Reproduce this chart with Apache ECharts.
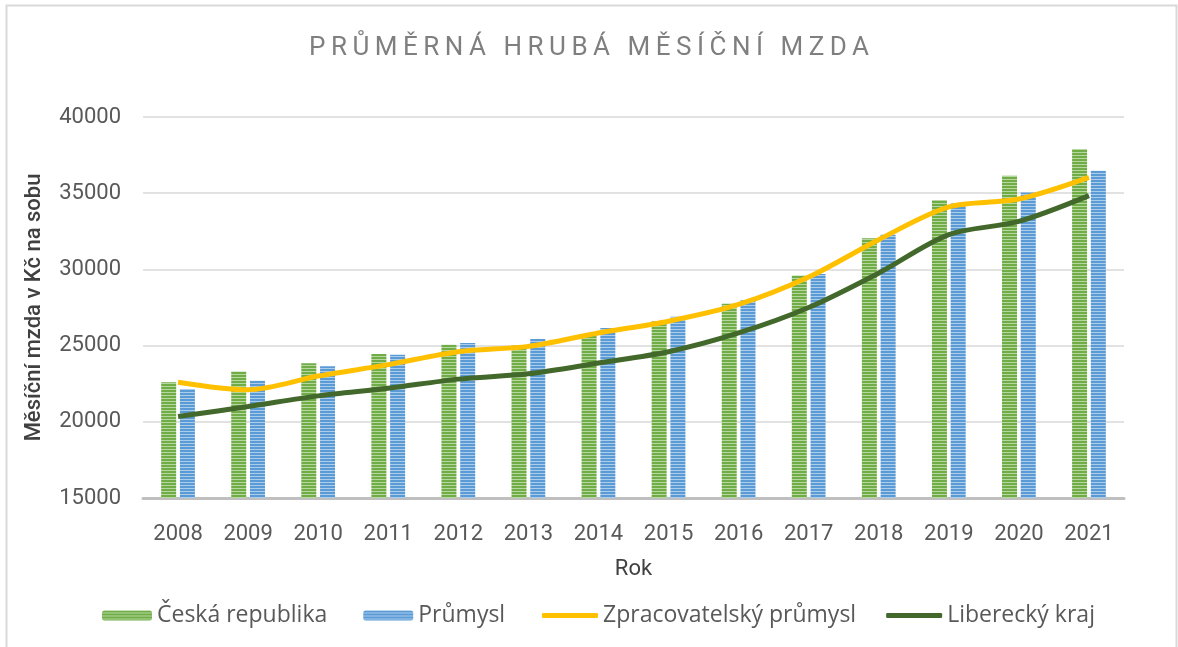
<!DOCTYPE html>
<html>
<head>
<meta charset="utf-8">
<script src="https://cdn.jsdelivr.net/npm/echarts@6/dist/echarts.min.js"></script>
<style>
    html, body { margin: 0; padding: 0; background: #fff; }
    #wrap { position: relative; width: 1178px; height: 647px; overflow: hidden; }
    #mzda { width: 1178px; height: 647px; }
    #titulek {
        position: absolute; left: 0; top: 31px; width: 1178px; text-align: center;
        font-family: Roboto, sans-serif; font-size: 26px; color: #7f7f7f;
        letter-spacing: 5.5px; padding-left: 5.5px; box-sizing: border-box;
    }
</style>
</head>
<body>
<div id="wrap">
    <div id="mzda"></div>
    <div id="titulek">PRŮMĚRNÁ HRUBÁ MĚSÍČNÍ MZDA</div>
</div>
<script>
var roky = ['2008', '2009', '2010', '2011', '2012', '2013', '2014', '2015', '2016', '2017', '2018', '2019', '2020', '2021'];
var ceskaRepublika = [22600, 23300, 23850, 24450, 25050, 25000, 25750, 26600, 27750, 29600, 32050, 34550, 36150, 37900];
var prumysl = [22150, 22700, 23650, 24400, 25170, 25430, 26150, 26900, 27970, 29700, 32280, 34360, 35050, 36480];
var zpracovatelsky = [22600, 22100, 23000, 23750, 24600, 24950, 25830, 26600, 27700, 29500, 31950, 34100, 34620, 36040];
var liberecky = [20350, 21000, 21700, 22200, 22800, 23150, 23860, 24600, 25830, 27500, 29760, 32280, 33150, 34840];

(function () {
    // vodorovne prouzky pro sloupce
    function pruhy(zaklad, svetla) {
        var c = document.createElement('canvas');
        c.width = 4; c.height = 3;
        var ctx = c.getContext('2d');
        ctx.fillStyle = zaklad;
        ctx.fillRect(0, 0, 4, 2);
        ctx.fillStyle = svetla;
        ctx.fillRect(0, 2, 4, 1);
        return { image: c, repeat: 'repeat' };
    }

    var legendaText = { fontFamily: 'Open Sans', fontSize: 23, color: '#595959' };

    var myChart = echarts.init(document.getElementById('mzda'));
    var option = {
        animation: false,
        textStyle: { fontFamily: 'Roboto' },
        graphic: [{
            type: 'rect',
            shape: { x: 6.5, y: 5.5, width: 1170, height: 700 },
            style: { fill: 'none', stroke: '#d9d9d9', lineWidth: 2 },
            silent: true
        }],
        legend: [
            {
                top: 599,
                left: 97,
                itemWidth: 50,
                itemHeight: 10,
                itemGap: 36,
                textStyle: legendaText,
                data: ['Česká republika', 'Průmysl']
            },
            {
                top: 599,
                left: 537,
                itemWidth: 56,
                itemHeight: 5,
                itemGap: 30,
                textStyle: legendaText,
                data: [
                    { name: 'Zpracovatelský průmysl', icon: 'roundRect' },
                    { name: 'Liberecký kraj', icon: 'roundRect' }
                ]
            }
        ],
        grid: {
            left: 143,
            right: 54,
            top: 117,
            bottom: 149
        },
        xAxis: {
            type: 'category',
            data: roky,
            name: 'Rok',
            nameLocation: 'middle',
            nameGap: 60,
            nameTextStyle: { fontSize: 22, color: '#404040' },
            axisLine: { lineStyle: { color: '#bfbfbf', width: 3 } },
            axisTick: { show: false },
            axisLabel: { fontSize: 22, color: '#595959', margin: 25 }
        },
        yAxis: {
            type: 'value',
            min: 15000,
            max: 40000,
            interval: 5000,
            name: 'Měsíční mzda v Kč na sobu',
            nameLocation: 'middle',
            nameGap: 98,
            nameTextStyle: { fontSize: 22, color: '#404040', fontWeight: 500 },
            axisLine: { show: false },
            axisTick: { show: false },
            axisLabel: {
                fontSize: 22, color: '#595959', margin: 22,
                formatter: function (v) { return String(v); }
            },
            splitLine: { lineStyle: { color: '#d9d9d9', width: 1.5 } }
        },
        series: [
            {
                name: 'Česká republika',
                type: 'bar',
                barWidth: 15,
                barGap: '25%',
                itemStyle: { color: pruhy('#70ad47', '#b7d7a1') },
                data: ceskaRepublika
            },
            {
                name: 'Průmysl',
                type: 'bar',
                barWidth: 15,
                barGap: '25%',
                itemStyle: { color: pruhy('#5b9bd5', '#acccec') },
                data: prumysl
            },
            {
                name: 'Zpracovatelský průmysl',
                type: 'line',
                smooth: 0.3,
                symbol: 'none',
                itemStyle: { color: '#ffc000' },
                lineStyle: { color: '#ffc000', width: 5 },
                data: zpracovatelsky
            },
            {
                name: 'Liberecký kraj',
                type: 'line',
                smooth: 0.3,
                symbol: 'none',
                itemStyle: { color: '#43682b' },
                lineStyle: { color: '#43682b', width: 5 },
                data: liberecky
            }
        ]
    };
    myChart.setOption(option);
})();
</script>
</body>
</html>
